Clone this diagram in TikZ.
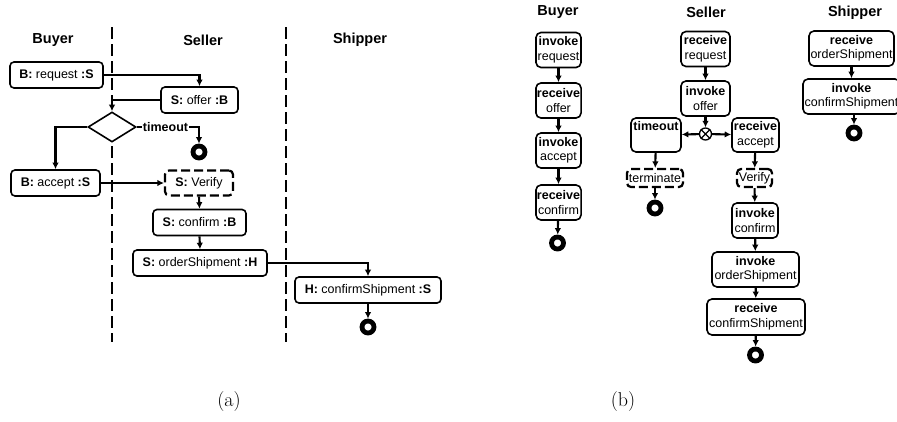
\documentclass[tikz,border=0pt]{standalone}
\usepackage{fontspec}
\newfontfamily\hv{Liberation Sans}
\usetikzlibrary{shapes.geometric,arrows.meta}
\begin{document}
\begin{tikzpicture}[x=1pt,y=-1pt,
  abox/.style={draw,rounded corners=4pt,line width=1.6pt,minimum height=26pt,inner sep=1pt,font=\hv\fontsize{12.5}{15}\selectfont},
  bbox/.style={draw,rounded corners=5pt,line width=1.6pt,minimum height=35pt,inner sep=1pt,align=center,font=\hv\fontsize{12.5}{14.5}\selectfont},
  dbox/.style={draw,rounded corners=4pt,line width=2.2pt,dash pattern=on 9pt off 4pt,inner sep=1pt,font=\hv\fontsize{12.5}{14.5}\selectfont},
  headtxt/.style={font=\hv\bfseries\fontsize{14.5}{16}\selectfont},
  conn/.style={line width=2.1pt,-{Latex[length=6.5pt,width=6.5pt]}},
  plainline/.style={line width=2.1pt},
  finnode/.style={circle,draw,line width=4.8pt,minimum size=12pt,inner sep=0pt},
  laneline/.style={line width=2.2pt,dash pattern=on 12pt off 5pt},
  captxt/.style={font=\fontsize{20}{24}\selectfont}
]
\useasboundingbox (0,0) rectangle (897,421);
% ---------- (a) ----------
\coordinate (l1t) at (112,27); \coordinate (l1b) at (112,342);
\coordinate (l2t) at (286,27); \coordinate (l2b) at (286,342);
\draw[laneline] (l1t) -- (l1b);
\draw[laneline] (l2t) -- (l2b);
\node[headtxt] (hA1) at (53,40) {Buyer};
\node[headtxt] (hA2) at (203,40) {Seller};
\node[headtxt] (hA3) at (360,40) {Shipper};

\node[abox,minimum width=93pt] (req) at (56.5,75) {\textbf{B:} request \textbf{:S}};
\node[abox,minimum width=77pt] (offer) at (199.5,100) {\textbf{S:} offer \textbf{:B}};
\node[diamond,draw,fill=white,line width=1.6pt,minimum width=48pt,minimum height=30pt,inner sep=0pt] (dia) at (112,127) {};
\node[font=\hv\bfseries\fontsize{12.5}{15}\selectfont,inner sep=1pt,fill=white] (tlab) at (165.5,127) {timeout};
\node[finnode] (fa1) at (199,152) {};
\node[abox,minimum width=89pt] (acc) at (55.5,183) {\textbf{B:} accept \textbf{:S}};
\node[dbox,minimum width=68pt,minimum height=25pt,font=\hv\fontsize{12.5}{15}\selectfont] (ver) at (199,183) {\textbf{S:} Verify};
\node[abox,minimum width=93pt] (conf) at (199.5,222.5) {\textbf{S:} confirm \textbf{:B}};
\node[abox,minimum width=134pt] (ord) at (200,263) {\textbf{S:} orderShipment \textbf{:H}};
\node[abox,minimum width=146pt] (cship) at (368,290) {\textbf{H:} confirmShipment \textbf{:S}};
\node[finnode] (fa2) at (368,327) {};

\draw[conn] (req.east) -| (offer.north);
\draw[conn] (offer.west) -| (dia.north);
\draw[conn] (dia.west) -| (acc.north);
\draw[plainline] (dia.east) -- (tlab.west);
\draw[conn] (tlab.east) -| (fa1.north);
\draw[conn] (acc.east) -- (ver.west);
\draw[conn] (ver.south) -- (conf.north);
\draw[conn] (conf.south) -- (ord.north);
\draw[conn] (ord.east) -| (cship.north);
\draw[conn] (cship.south) -- (fa2.north);

% ---------- (b) ----------
\node[headtxt] (hB1) at (558,12) {Buyer};
\node[headtxt] (hB2) at (706,12) {Seller};
\node[headtxt] (hB3) at (855,13) {Shipper};

\node[bbox,minimum width=45pt] (b1) at (558.5,50) {\textbf{invoke}\\request};
\node[bbox,minimum width=45pt] (b2) at (558.5,100.5) {\textbf{receive}\\offer};
\node[bbox,minimum width=45pt] (b3) at (558.5,150.5) {\textbf{invoke}\\accept};
\node[bbox,minimum width=45pt] (b4) at (558.5,202.5) {\textbf{receive}\\confirm};
\node[finnode] (fb1) at (557.5,243) {};
\draw[conn] (b1) -- (b2);
\draw[conn] (b2) -- (b3);
\draw[conn] (b3) -- (b4);
\draw[conn] (b4) -- (fb1);

\node[bbox,minimum width=49pt] (s1) at (705.5,49) {\textbf{receive}\\request};
\node[bbox,minimum width=49pt] (s2) at (705.5,98.5) {\textbf{invoke}\\offer};
\node[circle,draw,line width=1.3pt,minimum size=12pt,inner sep=0pt] (xor) at (705.5,134) {};
\draw[line width=1.3pt] (xor.north east) -- (xor.south west) (xor.north west) -- (xor.south east);
\node[bbox,minimum width=50pt,minimum height=34pt] (tout) at (656,135) {\textbf{timeout}\\\strut};
\node[bbox,minimum width=47pt,minimum height=34pt] (racc) at (755.5,135) {\textbf{receive}\\accept};
\node[dbox,minimum width=56pt,minimum height=18pt] (term) at (655,178) {terminate};
\node[finnode] (fb2) at (655,208) {};
\node[dbox,minimum width=35pt,minimum height=18pt] (sver) at (754.5,178) {Verify};
\node[bbox,minimum width=46pt] (s3) at (755,220.5) {\textbf{invoke}\\confirm};
\node[bbox,minimum width=87pt] (s4) at (755.5,269.5) {\textbf{invoke}\\orderShipment};
\node[bbox,minimum width=98pt,minimum height=36pt] (s5) at (756,317) {\textbf{receive}\\confirmShipment};
\node[finnode] (fb3) at (755.5,355) {};
\draw[conn] (s1) -- (s2);
\draw[conn] (s2) -- (xor);
\draw[conn] (xor) -- (tout);
\draw[conn] (xor) -- (racc);
\draw[conn] (tout) -- (term);
\draw[conn] (term) -- (fb2);
\draw[conn] (racc) -- (sver);
\draw[conn] (sver) -- (s3);
\draw[conn] (s3) -- (s4);
\draw[conn] (s4) -- (s5);
\draw[conn] (s5) -- (fb3);

\node[bbox,minimum width=85pt] (h1) at (851.5,48.5) {\textbf{receive}\\orderShipment};
\node[bbox,minimum width=97pt] (h2) at (851.5,96.5) {\textbf{invoke}\\confirmShipment};
\node[finnode] (fb4) at (854,133) {};
\draw[conn] (h1) -- (h2);
\draw[conn] (h2.south -| fb4) -- (fb4);

% captions
\node[captxt] (ca) at (229,402) {(a)};
\node[captxt] (cb) at (623,402) {(b)};
\end{tikzpicture}
\end{document}
